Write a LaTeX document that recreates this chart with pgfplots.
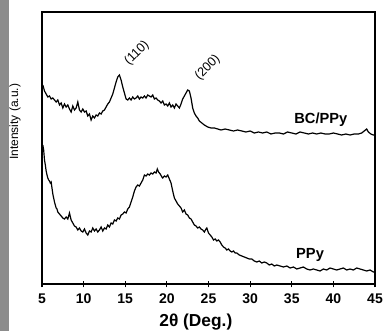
\documentclass[border=0pt]{standalone}
\usepackage{fontspec}
\setmainfont{Liberation Sans}
\usepackage{pgfplots}
\pgfplotsset{compat=1.18}
\begin{document}
\begin{tikzpicture}
\begin{axis}[
  scale only axis,
  width=249.75pt, height=204pt,
  xmin=5, xmax=45, ymin=0, ymax=272,
  xtick={5,10,...,45}, ytick=\empty,
  xtick pos=bottom,
  tick align=center,
  major tick length=5pt,
  axis line style={line width=0.8pt},
  every tick/.style={black, line width=0.8pt},
  /pgf/number format/assume math mode=true,
  xticklabel style={font=\bfseries\fontsize{10.5}{12}\selectfont, yshift=-1pt},
  xlabel={2θ (Deg.)},
  xlabel style={font=\bfseries\fontsize{13}{15}\selectfont, at={(axis description cs:0.462,-0.14)}, anchor=center},
  ylabel={Intensity (a.u.)},
  ylabel style={font=\fontsize{9}{11}\selectfont, at={(axis description cs:-0.081,0.596)}, anchor=center},
  clip=false,
]
\coordinate (sw) at (rel axis cs:0,0);
\addplot[black, line width=0.9pt] coordinates {
(5.1,199)(5.3,193)(5.5,190)(5.7,187)(5.9,188)(6.1,185)(6.3,186)(6.5,184)(6.7,182)(6.9,184)
(7.1,179)(7.3,181)(7.5,176)(7.7,180)(7.9,177)(8.1,179)(8.3,175)(8.5,172)(8.7,178)(8.9,174)
(9.1,176)(9.3,182)(9.5,174)(9.7,172)(9.9,175)(10.1,172)(10.3,173)(10.5,168)(10.7,170)(10.9,164)
(11.1,168)(11.3,166)(11.5,169)(11.7,168)(11.9,171)(12.1,170)(12.3,173)(12.5,174)(12.7,177)(12.9,180)
(13.1,182)(13.3,186)(13.5,190)(13.7,196)(13.9,202)(14.1,207)(14.3,209)(14.5,204)(14.7,197)(14.9,191)
(15.1,185)(15.3,184)(15.5,186)(15.7,184)(15.9,187)(16.1,185)(16.3,186)(16.5,188)(16.7,185)(16.9,187)
(17.1,186)(17.3,188)(17.5,186)(17.7,189)(17.9,188)(18.1,187)(18.3,189)(18.5,185)(18.7,186)(18.9,184)
(19.1,183)(19.3,181)(19.5,183)(19.7,179)(19.9,180)(20.1,178)(20.3,181)(20.5,177)(20.7,179)(20.9,176)
(21.1,180)(21.3,178)(21.5,176)(21.7,180)(21.9,185)(22.1,188)(22.3,191)(22.5,194)(22.7,193)(22.9,186)
(23.1,176)(23.3,171)(23.5,168)(23.7,166)(23.9,163)(24.2,161)(24.5,159)(24.9,157)(25.3,156)(25.7,156)
(26.1,155)(26.5,154)(27,155)(27.5,154)(28,153)(28.5,154)(29,153)(29.5,152)(30,153)(30.5,151)
(31,152)(31.5,151)(32,152)(32.5,150)(33,151)(33.5,151)(34,150)(34.5,152)(35,151)(35.5,150)
(36,152)(36.5,151)(37,150)(37.5,151)(38,150)(38.5,151)(39,150)(39.5,150)(40,151)(40.5,150)
(41,149)(41.5,150)(42,149)(42.5,150)(43,150)(43.4,151)(43.7,153)(44,155)(44.2,152)(44.5,150)
(44.8,149)(45,149)
};
\addplot[black, line width=0.9pt] coordinates {
(5.1,139)(5.2,134)(5.3,124)(5.4,119)(5.5,113)(5.6,109)(5.7,106)(5.8,104)(5.9,103)(6.0,101)
(6.1,102)(6.2,96)(6.3,90)(6.4,86)(6.5,82)(6.6,79)(6.7,76)(6.8,75)(6.9,72)(7.0,71)
(7.1,70)(7.3,68)(7.5,66)(7.7,65)(7.9,67)(8.1,65)(8.3,71)(8.5,64)(8.7,61)(8.9,58)
(9.1,57)(9.3,54)(9.5,56)(9.7,53)(9.9,52)(10.1,55)(10.3,51)(10.5,49)(10.7,53)(10.9,52)
(11.1,56)(11.3,53)(11.5,55)(11.7,52)(11.9,54)(12.1,57)(12.3,53)(12.5,56)(12.7,55)(12.9,59)
(13.1,57)(13.3,61)(13.5,60)(13.7,64)(13.9,63)(14.1,66)(14.3,65)(14.5,69)(14.7,70)(14.9,72)
(15.1,71)(15.3,75)(15.5,77)(15.7,82)(15.9,87)(16.1,93)(16.3,97)(16.5,99)(16.7,98)(16.9,101)
(17.1,104)(17.3,109)(17.5,108)(17.7,110)(17.9,109)(18.1,111)(18.3,110)(18.5,112)(18.7,111)(18.85,115)
(19.0,112)(19.2,110)(19.4,107)(19.5,106)(19.7,108)(19.9,107)(20.1,109)(20.3,105)(20.5,101)(20.7,93)
(20.9,86)(21.1,83)(21.3,80)(21.5,78)(21.7,76)(21.9,72)(22.1,74)(22.3,70)(22.5,69)(22.7,66)
(22.9,65)(23.1,62)(23.3,59)(23.5,58)(23.7,56)(23.9,57)(24.1,55)(24.3,54)(24.5,52)(24.7,55)
(24.8,56)(25.0,51)(25.2,49)(25.4,47)(25.6,44)(25.8,45)(26.0,43)(26.2,44)(26.4,42)(26.6,39)
(26.8,37)(27.0,36)(27.2,34)(27.4,35)(27.6,33)(27.8,32)(28.0,33)(28.2,31)(28.4,31)(28.7,29)
(29.0,28)(29.3,27)(29.6,26)(29.9,25)(30.2,25)(30.5,23)(30.8,22)(31.1,23)(31.4,21)(31.7,22)
(32.0,21)(32.3,19)(32.6,20)(32.9,18)(33.2,19)(33.6,18)(34.0,17)(34.4,18)(34.8,16)(35.2,17)
(35.6,15)(36.0,16)(36.4,17)(36.8,15)(37.2,14)(37.6,15)(38.0,14)(38.4,13)(38.8,15)(39.2,14)
(39.6,16)(40.0,15)(40.4,14)(40.8,15)(41.2,16)(41.6,14)(42.0,15)(42.4,14)(42.8,16)(43.2,15)
(43.6,14)(44.0,13)(44.4,14)(44.8,12)(45.0,12)
};
\node[rotate=45, font=\fontsize{9.5}{11}\selectfont] at (axis cs:16.4,231) {(110)};
\node[rotate=45, font=\fontsize{9.5}{11}\selectfont] at (axis cs:24.9,216) {(200)};
\node[font=\bfseries\fontsize{11}{13}\selectfont] at (axis cs:38.5,164) {BC/PPy};
\node[font=\bfseries\fontsize{11}{13}\selectfont] at (axis cs:37.2,29) {PPy};
\end{axis}
\pgfresetboundingbox
\path ([shift={(-31.5pt,-35.25pt)}]sw) coordinate (bl) rectangle ++(288pt,248.25pt);
\fill[black!45] (bl) rectangle ++(7pt,248.25pt);
\end{tikzpicture}
\end{document}
